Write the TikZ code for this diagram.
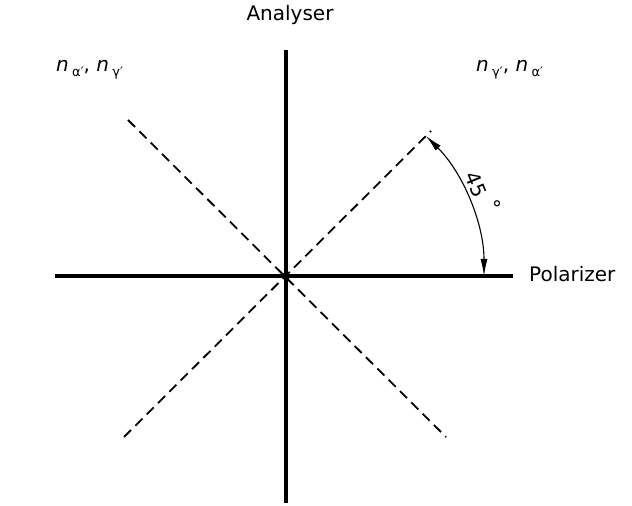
\documentclass[tikz,border=0pt]{standalone}
\usepackage{fontspec}
\setmainfont{DejaVu Sans}
\usetikzlibrary{arrows.meta}
\newcommand{\ridx}[1]{\textit{n}\,\raisebox{-0.45ex}{\fontsize{13}{13}\selectfont #1′}}

\begin{document}
\begin{tikzpicture}[x=1pt,y=1pt,
  axis/.style={line width=3.6pt},
  optic/.style={line width=1.8pt, dash pattern=on 10pt off 6pt},
  angmark/.style={line width=1.1pt, {Latex[length=17pt,width=7pt]}-{Latex[length=17pt,width=7pt]}},
  lbl/.style={font=\fontsize{20}{24}\selectfont, inner sep=0pt}]
  \useasboundingbox (0,0) rectangle (632,506);
  \coordinate (O) at (286,230);
  \coordinate (polL) at (55,230);
  \coordinate (polR) at (513,230);
  \coordinate (anaT) at (286,456);
  \coordinate (anaB) at (286,3);
  \coordinate (dUR) at (431,375);
  \coordinate (dUL) at (128,386);
  \coordinate (dLL) at (124,69);
  \coordinate (dLR) at (446,69);
  \coordinate (arcA) at (484,230);
  \draw[optic] (dLL) -- (dUR);
  \draw[optic] (dUL) -- (dLR);
  \draw[axis] (polL) -- (polR);
  \draw[axis] (anaB) -- (anaT);
  \fill (O) circle (4pt);
  \draw[angmark] (arcA) arc[start angle=0, end angle=45, radius=198];
  \node[lbl] (ana) at (290,491) {Analyser};
  \node[lbl, anchor=west] (pol) at (529,232) {Polarizer};
  \node[lbl, anchor=west] (nL) at (56,436) {\ridx{α}, \ridx{γ}};
  \node[lbl, anchor=west] (nR) at (476,436) {\ridx{γ}, \ridx{α}};
  \node[lbl, rotate=-67.5] (ang) at (476,321) {45};
  \node[lbl] (deg) at (497,298) {°};
\end{tikzpicture}
\end{document}
